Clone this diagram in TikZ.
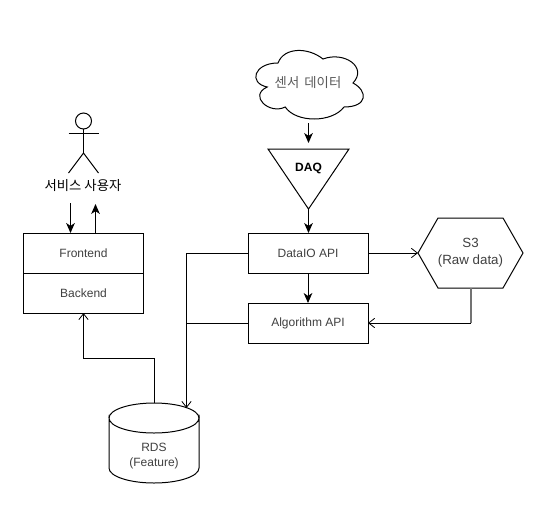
\documentclass[tikz,border=0pt]{standalone}
\usepackage{fontspec}
\setmainfont{Liberation Sans}
\newfontfamily\krfont{Noto Sans CJK KR}
\usetikzlibrary{arrows.meta,calc}
\tikzset{
  line/.style={draw=black,line width=0.75pt},
  box/.style={line,rectangle,inner sep=0pt,outer sep=0pt,minimum width=90pt,minimum height=30pt,font=\fontsize{9}{10.8}\selectfont,text=black!75,align=center},
  frame/.style={rectangle,inner sep=0pt,outer sep=0pt,font=\fontsize{9}{10.8}\selectfont,text=black!75,align=center},
  solidarrow/.style={line,-{Stealth[length=7.5pt,width=6.5pt,inset=2.2pt]}},
  openarrow/.style={line,-{Straight Barb[length=4.5pt,width=7pt,line width=0.6pt]}},
  plainline/.style={line},
}
\begin{document}
\begin{tikzpicture}[x=0.75pt,y=-0.75pt]
\useasboundingbox[fill=white] (0,0) rectangle (555,521);

% boxes
\node[box] (front) at (83.5,253) {Frontend};
\node[box] (back) at (83.5,293) {Backend};
\node[box] (dataio) at (308,253) {DataIO API};
\node[box] (algo) at (308,323) {Algorithm API};

% cloud
\node[frame,minimum width=90pt,minimum height=60pt,text=black!65,font=\fontsize{10}{12}\selectfont] (cloud) at (308,83) {\krfont 센서\ \,데이터};
\draw[line] (278,63) .. controls (254,63) and (248,83) .. (267.2,87)
  .. controls (248,95.8) and (269.6,115) .. (285.2,107)
  .. controls (296,123) and (332,123) .. (344,107)
  .. controls (368,107) and (368,91) .. (353,83)
  .. controls (368,67) and (344,51) .. (323,59)
  .. controls (308,47) and (284,47) .. (278,63) -- cycle;

% DAQ triangle
\node[frame,minimum width=60.75pt,minimum height=45pt,text=black] (daq) at (308.5,179) {};
\node[frame,text=black] (daqlabel) at (308.5,168) {\bfseries DAQ};
\draw[line,line join=miter] (daq.north west) -- (daq.north east) -- (daq.south) -- cycle;

% S3 hexagon
\node[frame,minimum width=78.75pt,minimum height=52.5pt,font=\fontsize{10}{12.75}\selectfont] (s3) at (470.5,253) {S3\\(Raw data)};
\draw[line] (s3.west) -- ($(s3.north west)+(20,0)$) -- ($(s3.north east)+(-20,0)$) -- (s3.east) -- ($(s3.south east)+(-20,0)$) -- ($(s3.south west)+(20,0)$) -- cycle;

% RDS cylinder
\node[frame,minimum width=67.5pt,minimum height=60pt] (rds) at (154,443) {};
\node[frame,font=\fontsize{9}{11.25}\selectfont] (rdslabel) at (154,456) {RDS\\(Feature)};
\draw[line] (109,418) arc[start angle=180,end angle=0,x radius=45,y radius=15] -- (199,468)
  arc[start angle=0,end angle=180,x radius=45,y radius=15] -- cycle;
\draw[line] (109,418) arc[start angle=180,end angle=360,x radius=45,y radius=15];

% actor
\node[frame,minimum width=22.5pt,minimum height=45pt] (actor) at (83.5,143) {};
\draw[line] (83.5,121) circle[radius=8];
\draw[line] (83.5,129) -- (83.5,153);
\draw[line] (68.5,133.5) -- (98.5,133.5);
\draw[line] (68.5,173) -- (83.5,153) -- (98.5,173);
\node[frame,text=black,font=\fontsize{10}{12}\selectfont] (user) at (83,186) {\krfont 서비스 사용자};

% connectors
\coordinate (cloudout) at (308.5,123);
\coordinate (daqin) at (308.5,143);
\draw[solidarrow] (cloudout) -- (daqin);
\draw[solidarrow] (daq.south) -- (daq.south |- dataio.north);
\draw[solidarrow] (dataio.south) -- (algo.north);
\draw[openarrow] (dataio.east) -- (s3.west);
\coordinate (s3out) at (471,288);
\draw[line,draw=black!55,line width=1.1pt] (s3out) -- (s3out |- algo);
\draw[openarrow] (s3out |- algo) -- (algo.east);
\coordinate (trunk) at (186.5,253);
\coordinate (rdsin) at (186.5,408);
\draw[openarrow] (dataio.west) -- (trunk) -- (rdsin);
\draw[plainline] (algo.west) -- (trunk |- algo);
\coordinate (rdsout) at (154.5,403);
\coordinate (bend) at (154.5,358);
\draw[openarrow] (rdsout) -- (bend) -- (bend -| back) -- (back.south);
\coordinate (userdownstart) at (70.5,203);
\coordinate (userdownend) at (70.5,233);
\coordinate (userupstart) at (95.5,233);
\coordinate (userupend) at (95.5,204);
\draw[solidarrow] (userdownstart) -- (userdownend);
\draw[solidarrow] (userupstart) -- (userupend);
\end{tikzpicture}
\end{document}
